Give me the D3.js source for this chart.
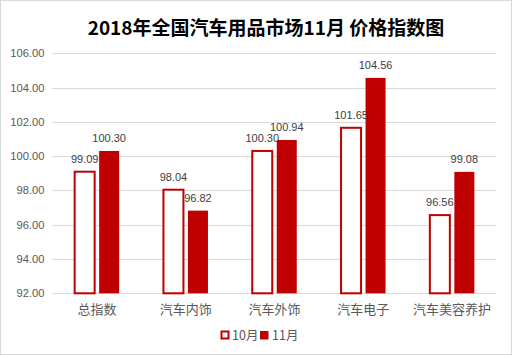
<!DOCTYPE html>
<html><head><meta charset="utf-8">
<script src="https://cdn.jsdelivr.net/npm/d3@7"></script>
<style>body{margin:0;background:#fff}svg{display:block}</style>
</head><body>
<svg id="c" width="513" height="356"></svg>
<script>
const title = "2018年全国汽车用品市场11月 价格指数图";
const categories = ["总指数","汽车内饰","汽车外饰","汽车电子","汽车美容养护"];
const seriesNames = ["10月","11月"];
const oct = [99.09, 98.04, 100.30, 101.65, 96.56];
const nov = [100.30, 96.82, 100.94, 104.56, 99.08];
const yTicks = [92, 94, 96, 98, 100, 102, 104, 106];

const svg = d3.select("#c");
const red = "#C00000";
const gray = "#595959";
const margin = {left: 52.5, right: 496.5, top: 53.2, bottom: 293.3};

svg.append("rect").attr("x",0.5).attr("y",0.5).attr("width",511).attr("height",354)
  .attr("fill","#fff").attr("stroke","#d9d9d9");

svg.append("text").attr("x",266).attr("y",35).attr("text-anchor","middle")
  .style("font-family","'Noto Sans CJK SC', sans-serif").style("font-weight","bold")
  .style("font-size","19px").attr("fill","#000").text(title);

const x = d3.scaleBand().domain(categories).range([margin.left, margin.right]);
const y = d3.scaleLinear().domain([92,106]).range([margin.bottom, margin.top]);

// gridlines
svg.append("g").selectAll("line").data(yTicks).join("line")
  .attr("x1",margin.left).attr("x2",margin.right)
  .attr("y1",d=>Math.round(y(d))+0.5).attr("y2",d=>Math.round(y(d))+0.5)
  .attr("stroke","#d9d9d9").attr("stroke-width",1);

// y axis labels
const yAxis = d3.axisLeft(y).tickValues(yTicks).tickFormat(d3.format(".2f")).tickSize(0).tickPadding(8);
const ya = svg.append("g").attr("transform",`translate(${margin.left},0)`).call(yAxis);
ya.select(".domain").remove();
ya.selectAll("text").style("font-family","'Liberation Sans', Arial, sans-serif")
  .style("font-size","11.2px").attr("fill",gray);

// x axis labels
const xAxis = d3.axisBottom(x).tickSize(0).tickPadding(11);
const xa = svg.append("g").attr("transform",`translate(0,${margin.bottom})`).call(xAxis);
xa.select(".domain").remove();
xa.selectAll("text").style("font-family","'Noto Sans CJK SC', sans-serif")
  .style("font-size","13px").attr("fill",gray);

const bw = 20, gap = 4.5;
const cx = c => x(c) + x.bandwidth()/2;

// Oct bars (outlined)
svg.append("g").selectAll("rect").data(oct).join("rect")
  .attr("x",(d,i)=>cx(categories[i]) - gap/2 - bw)
  .attr("y",d=>y(d)).attr("width",bw).attr("height",d=>y(92)-y(d))
  .attr("fill","#fff").attr("stroke",red).attr("stroke-width",2);
// Nov bars (filled)
svg.append("g").selectAll("rect").data(nov).join("rect")
  .attr("x",(d,i)=>cx(categories[i]) + gap/2)
  .attr("y",d=>y(d)).attr("width",bw).attr("height",d=>y(92)-y(d))
  .attr("fill",red);

const lblStyle = sel => sel.style("font-family","'Liberation Sans', Arial, sans-serif")
  .style("font-size","11px").attr("fill","#404040").attr("text-anchor","middle");
svg.append("g").selectAll("text").data(oct).join("text")
  .attr("x",(d,i)=>cx(categories[i]) - gap/2 - bw/2).attr("y",d=>y(d)-9)
  .text(d=>d.toFixed(2)).call(lblStyle);
svg.append("g").selectAll("text").data(nov).join("text")
  .attr("x",(d,i)=>cx(categories[i]) + gap/2 + bw/2).attr("y",d=>y(d)-9)
  .text(d=>d.toFixed(2)).call(lblStyle);

// legend
const lg = svg.append("g");
lg.append("rect").attr("x",221.5).attr("y",331.5).attr("width",7).attr("height",7)
  .attr("fill","#fff").attr("stroke",red).attr("stroke-width",2);
lg.append("text").attr("x",232).attr("y",339.5).text(seriesNames[0])
  .style("font-family","'Noto Sans CJK SC', sans-serif").style("font-size","12.5px").attr("fill",gray);
lg.append("rect").attr("x",260).attr("y",331).attr("width",8.5).attr("height",8.5).attr("fill",red);
lg.append("text").attr("x",272).attr("y",339.5).text(seriesNames[1])
  .style("font-family","'Noto Sans CJK SC', sans-serif").style("font-size","12.5px").attr("fill",gray);
</script>
</body></html>
